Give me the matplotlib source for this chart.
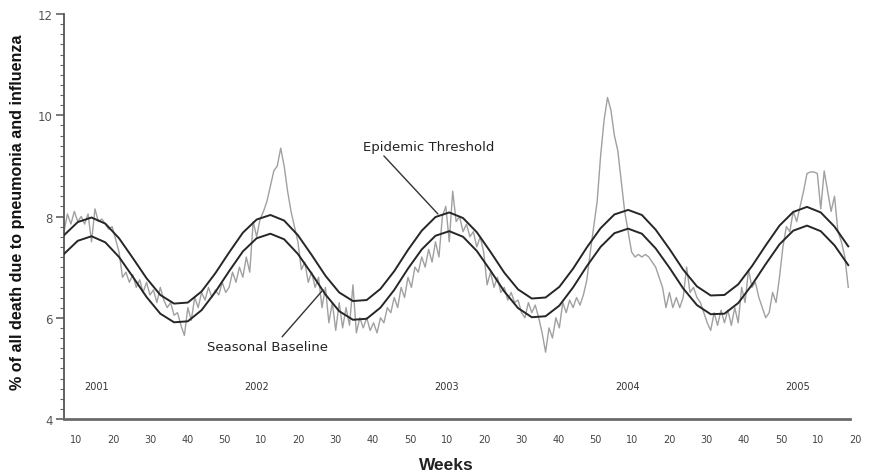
import numpy as np
import matplotlib
matplotlib.use("Agg")
import matplotlib.pyplot as plt

# ---- data (week index 0 = first plotted week of 2001) ----
observed = [
    7.70, 8.05, 7.85, 8.10, 7.90, 8.00, 7.85, 8.05, 7.50, 8.15,
    7.90, 7.95, 7.85, 7.75, 7.80, 7.55, 7.30, 6.80, 6.90, 6.70,
    6.85, 6.60, 6.75, 6.50, 6.70, 6.45, 6.55, 6.30, 6.60, 6.35,
    6.20, 6.30, 6.05, 6.10, 5.85, 5.65, 6.20, 5.95, 6.40, 6.20,
    6.50, 6.35, 6.60, 6.40, 6.55, 6.45, 6.70, 6.50, 6.60, 6.90,
    6.70, 7.00, 6.80, 7.20, 6.90, 7.90, 7.60, 7.95, 8.10, 8.30,
    8.60, 8.90, 9.00, 9.35, 9.00, 8.50, 8.10, 7.80, 7.50, 6.95,
    7.10, 6.70, 6.90, 6.60, 6.80, 6.20, 6.60, 5.90, 6.30, 5.75,
    6.30, 5.80, 6.20, 5.85, 6.65, 5.70, 6.00, 5.80, 6.00, 5.75,
    5.90, 5.70, 6.00, 5.90, 6.20, 6.10, 6.40, 6.20, 6.60, 6.40,
    6.80, 6.60, 7.00, 6.90, 7.20, 7.00, 7.35, 7.10, 7.50, 7.20,
    8.00, 8.20, 7.50, 8.50, 7.90, 8.00, 7.70, 7.85, 7.60, 7.70,
    7.40, 7.60, 7.30, 6.65, 6.90, 6.60, 6.80, 6.50, 6.60, 6.35,
    6.50, 6.30, 6.35, 6.10, 6.00, 6.30, 6.10, 6.25, 6.00, 5.70,
    5.32, 5.80, 5.60, 6.00, 5.80, 6.30, 6.10, 6.35, 6.20, 6.40,
    6.25, 6.45, 6.75, 7.30, 7.80, 8.30, 9.20, 9.90, 10.35, 10.10,
    9.60, 9.30, 8.70, 8.10, 7.70, 7.30, 7.20, 7.25, 7.20, 7.25,
    7.20, 7.10, 7.00, 6.80, 6.60, 6.20, 6.50, 6.20, 6.40, 6.20,
    6.40, 7.00, 6.50, 6.60, 6.40, 6.30, 6.10, 5.90, 5.75, 6.10,
    5.85, 6.15, 5.90, 6.15, 5.85, 6.20, 5.90, 6.60, 6.30, 6.95,
    6.60, 6.70, 6.40, 6.20, 6.00, 6.10, 6.50, 6.30, 6.80, 7.40,
    7.80, 7.70, 8.10, 7.90, 8.20, 8.50, 8.85, 8.88, 8.88, 8.85,
    8.15, 8.90, 8.50, 8.10, 8.40, 7.70, 7.50, 7.20, 6.60,
]

# baseline / threshold sampled every 4 weeks
baseline = [
    7.26, 7.52, 7.61, 7.49, 7.20, 6.81, 6.41, 6.08, 5.91, 5.93,
    6.15, 6.51, 6.92, 7.31, 7.57, 7.66, 7.55, 7.26, 6.87, 6.46,
    6.13, 5.96, 5.98, 6.20, 6.55, 6.97, 7.35, 7.62, 7.71, 7.60,
    7.32, 6.93, 6.52, 6.19, 6.01, 6.03, 6.24, 6.60, 7.02, 7.40,
    7.67, 7.76, 7.66, 7.37, 6.99, 6.58, 6.25, 6.07, 6.08, 6.29,
    6.65, 7.06, 7.45, 7.72, 7.82, 7.71, 7.43, 7.04,
]
threshold = [
    7.63, 7.89, 7.98, 7.86, 7.57, 7.18, 6.78, 6.45, 6.28, 6.30,
    6.52, 6.88, 7.29, 7.68, 7.94, 8.03, 7.92, 7.63, 7.24, 6.83,
    6.50, 6.33, 6.35, 6.57, 6.92, 7.34, 7.72, 7.99, 8.08, 7.97,
    7.69, 7.30, 6.89, 6.56, 6.38, 6.40, 6.61, 6.97, 7.39, 7.77,
    8.04, 8.13, 8.03, 7.74, 7.36, 6.95, 6.62, 6.44, 6.45, 6.66,
    7.02, 7.43, 7.82, 8.09, 8.19, 8.08, 7.80, 7.41,
]

week_tick_labels = ["10", "20", "30", "40", "50"] * 4 + ["10", "20"]
years = ["2001", "2002", "2003", "2004", "2005"]
year_label_weeks = [9.6, 56.0, 111.3, 163.9, 213.4]

obs_x = np.arange(len(observed))
sm_x = np.arange(len(baseline)) * 4

# ---- figure ----
fig = plt.figure(figsize=(8.69, 4.77), dpi=100)
ax = fig.add_axes([64 / 869, 57 / 477, 794.6 / 869, 405 / 477])

ax.plot(obs_x, observed, color="#a0a0a0", lw=1.0, zorder=2)
ax.plot(sm_x, baseline, color="#262626", lw=1.4, zorder=3)
ax.plot(sm_x, threshold, color="#262626", lw=1.4, zorder=3)

ax.set_xlim(0, 231)
ax.set_ylim(4, 12)

for s in ["top", "right"]:
    ax.spines[s].set_visible(False)
ax.spines["bottom"].set_bounds(0, 228.5)
ax.spines["bottom"].set_color("#6a6a6a")
ax.spines["bottom"].set_linewidth(2.0)
ax.spines["left"].set_color("#555555")
ax.spines["left"].set_linewidth(1.3)

tick_pos = 3.49 + 10.785 * np.arange(len(week_tick_labels))
ax.set_xticks(tick_pos)
ax.set_xticklabels(week_tick_labels, fontsize=7, color="#444444")
ax.tick_params(axis="x", length=0, pad=11)

ax.set_yticks([4, 6, 8, 10, 12])
ax.set_yticks(np.arange(4, 12.01, 0.2), minor=True)
ax.tick_params(axis="y", which="major", length=6, width=1.1, color="#555555",
               labelsize=8.5, labelcolor="#555555", pad=2)
ax.tick_params(axis="y", which="minor", length=3, width=0.8, color="#666666")

for yl, yx in zip(years, year_label_weeks):
    ax.text(yx, 4.66, yl, fontsize=7, color="#333333", ha="center", va="center")

ax.annotate("Epidemic Threshold", xy=(108.7, 8.05), xytext=(86.9, 9.38),
            fontsize=9.5, color="#222222", ha="left", va="center",
            arrowprops=dict(arrowstyle="-", color="#333333", lw=1.0,
                            shrinkA=0, shrinkB=0,
                            relpos=(0.14, 0.0)))
ax.annotate("Seasonal Baseline", xy=(75.3, 6.55), xytext=(41.6, 5.44),
            fontsize=9.5, color="#222222", ha="left", va="center",
            arrowprops=dict(arrowstyle="-", color="#333333", lw=1.0,
                            shrinkA=0, shrinkB=0,
                            relpos=(0.6, 1.0)))

fig.text(18 / 869, 1 - 212 / 477, "% of all death due to pneumonia and influenza",
         rotation=90, ha="center", va="center", fontsize=11.6,
         fontweight="bold", family="Liberation Sans", color="#111111")
fig.text(446 / 869, 1 - 466 / 477, "Weeks", ha="center", va="center",
         fontsize=12.5, fontweight="bold", family="Liberation Sans", color="#222222")

fig.savefig("out.png", dpi=100)
